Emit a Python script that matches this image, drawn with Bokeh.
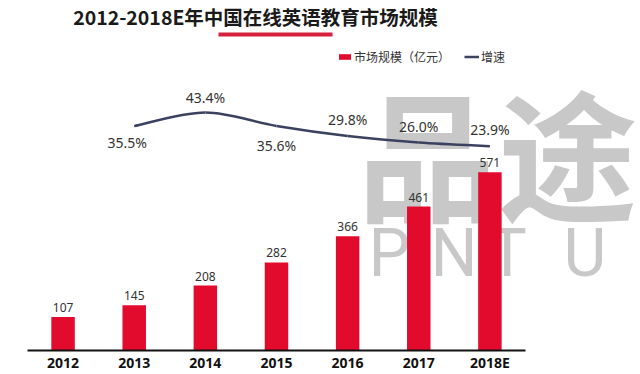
import numpy as np
from bokeh.plotting import figure
from bokeh.models import (ColumnDataSource, Range1d, FixedTicker, Label,
                          BoxAnnotation, Legend, LegendItem)
from bokeh.core.properties import value
from bokeh.embed import file_html
from bokeh.resources import INLINE

# ---------------- data ----------------
years = ["2012", "2013", "2014", "2015", "2016", "2017", "2018E"]
market = [107, 145, 208, 282, 366, 461, 571]            # 市场规模（亿元）
growth_years = ["2013", "2014", "2015", "2016", "2017", "2018E"]
growth = [35.5, 43.4, 35.6, 29.8, 26.0, 23.9]            # 增速 (%)

title_text = "2012-2018E年中国在线英语教育市场规模"
legend_bar = "市场规模（亿元）"
legend_line = "增速"
watermark_cn = "品途"
watermark_en = ["P", "I", "N", "T", "U"]

# ---------------- style ----------------
BAR_RED = "#e30b2d"
LINE_NAVY = "#3b4260"
TXT = "#333333"
WM = "#c8c8c8"
CJK = "Noto Sans CJK SC"
# screen offsets of the growth labels relative to their points
growth_label_dy = [16, -15, 20, -16, -16, -17]
growth_label_dx = [-7, 0, 0, 0, 0, 0]
wm_en_left = [341, 387, 403, 460, 536]

W, H = 640, 374
B_LEFT, B_BOTTOM = 27, 21
frame_w, frame_h = W - B_LEFT, H - B_BOTTOM
STEP = 71.14  # px per category

p = figure(width=W, height=H, output_backend="svg", toolbar_location=None,
           x_range=Range1d(-0.5, -0.5 + frame_w / STEP),
           y_range=Range1d(0, frame_h / 0.315),
           y_axis_location=None, min_border=0,
           min_border_left=B_LEFT, min_border_right=0,
           min_border_bottom=B_BOTTOM, min_border_top=0)
p.extra_y_ranges = {"growth": Range1d(-94.5, 108.3)}
p.outline_line_color = None
p.grid.visible = False
p.background_fill_color = "white"
p.border_fill_color = "white"

# ---------------- watermark (behind everything) ----------------
p.add_layout(Label(x=470, y=201, x_units="screen", y_units="screen",
                   text=watermark_cn, text_font=CJK, text_font_style="bold",
                   text_font_size="140px", text_color=WM,
                   text_align="center", text_baseline="middle", level="underlay"))
for ch, lx in zip(watermark_en, wm_en_left):
    p.add_layout(Label(x=lx, y=97, x_units="screen", y_units="screen",
                       text=ch, text_font="Roboto", text_font_size="66px",
                       text_color=WM, text_align="left", text_baseline="middle",
                       level="underlay"))

# ---------------- bars ----------------
xi = [years.index(y) for y in years]
bsrc = ColumnDataSource(dict(x=xi, top=market, lab=[str(v) for v in market]))
bars = p.vbar(x="x", top="top", width=0.33, source=bsrc,
              fill_color=BAR_RED, line_color=None)
p.text(x="x", y="top", text="lab", source=bsrc, y_offset=-5,
       text_font=value("Noto Sans"), text_font_size="12px", text_color=TXT,
       text_align="center", text_baseline="bottom")

# ---------------- smooth growth curve (Catmull-Rom -> Bezier) ----------------
gx = np.array([years.index(y) for y in growth_years], dtype=float)
gy = np.array(growth, dtype=float)
n = len(gx)
px = np.concatenate([[gx[0]], gx, [gx[-1]]])
py = np.concatenate([[gy[0]], gy, [gy[-1]]])
csrc = ColumnDataSource(dict(
    x0=px[1:n], y0=py[1:n], x1=px[2:n + 1], y1=py[2:n + 1],
    cx0=px[1:n] + (px[2:n + 1] - px[0:n - 1]) / 6,
    cy0=py[1:n] + (py[2:n + 1] - py[0:n - 1]) / 6,
    cx1=px[2:n + 1] - (px[3:n + 2] - px[1:n]) / 6,
    cy1=py[2:n + 1] - (py[3:n + 2] - py[1:n]) / 6,
))
curve = p.bezier(x0="x0", y0="y0", x1="x1", y1="y1", cx0="cx0", cy0="cy0",
                 cx1="cx1", cy1="cy1", source=csrc, y_range_name="growth",
                 line_color=LINE_NAVY, line_width=2.5)

gsrc = ColumnDataSource(dict(
    x=gx, y=gy, lab=["%.1f%%" % v for v in growth],
    dy=growth_label_dy, dx=growth_label_dx))
p.text(x="x", y="y", text="lab", source=gsrc, y_range_name="growth",
       x_offset="dx", y_offset="dy",
       text_font=value("Noto Sans"), text_font_size="14px", text_color=TXT,
       text_align="center", text_baseline="middle")

# ---------------- x axis ----------------
ax = p.xaxis[0]
ax.ticker = FixedTicker(ticks=xi)
ax.bounds = (-0.5, len(years) - 0.5)
ax.major_label_overrides = {i: y for i, y in zip(xi, years)}
ax.axis_label = None
ax.axis_line_color = "#111111"
ax.axis_line_width = 2
ax.major_tick_line_color = None
ax.minor_tick_line_color = None
ax.major_tick_out = 0
ax.major_tick_in = 0
ax.major_label_standoff = 2
ax.major_label_text_font = "Open Sans"
ax.major_label_text_font_style = "bold"
ax.major_label_text_font_size = "14px"
ax.major_label_text_color = "#111111"

# ---------------- title + red underline ----------------
p.add_layout(Label(x=228, y=frame_h - 19, x_units="screen", y_units="screen",
                   text=title_text, text_font=CJK, text_font_style="bold",
                   text_font_size="19.5px", text_color="#1a1a1a",
                   text_align="center", text_baseline="middle"))
p.add_layout(BoxAnnotation(left=191, right=305, bottom=frame_h - 39, top=frame_h - 35,
                           left_units="screen", right_units="screen",
                           bottom_units="screen", top_units="screen",
                           fill_color="#d6203c", fill_alpha=1, line_color=None,
                           level="annotation"))

# ---------------- legend ----------------
legend = Legend(items=[LegendItem(label=legend_bar, renderers=[bars]),
                       LegendItem(label=legend_line, renderers=[curve])],
                orientation="horizontal", location=(310, frame_h - 68),
                padding=0, margin=0, spacing=14, label_standoff=2,
                glyph_width=15, glyph_height=7, label_height=7,
                label_text_font=CJK, label_text_font_size="12px",
                label_text_color=TXT, border_line_color=None,
                background_fill_alpha=0)
p.add_layout(legend)

open("out.html", "w").write(file_html(p, INLINE))
